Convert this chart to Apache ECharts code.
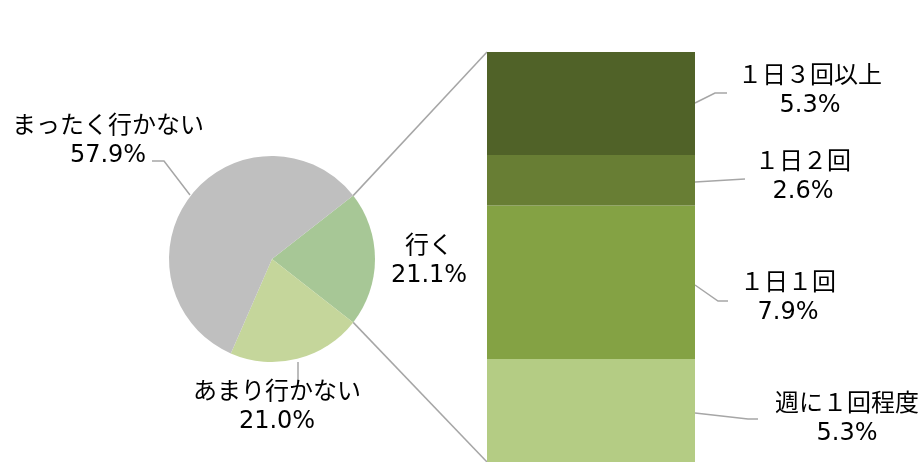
<!DOCTYPE html>
<html>
<head>
<meta charset="utf-8">
<script src="https://cdn.jsdelivr.net/npm/echarts@6/dist/echarts.min.js"></script>
<style>
  html, body { margin: 0; padding: 0; background: #fff; }
  #main { width: 922px; height: 462px; }
</style>
</head>
<body>
<div id="main"></div>
<script>
// 円グラフ（全体）
var pieNames = ['行く', 'あまり行かない', 'まったく行かない'];
var pieValues = [21.1, 21.0, 57.9];
// 棒グラフ（「行く」の内訳）下から順
var barNames = ['週に１回程度', '１日１回', '１日２回', '１日３回以上'];
var barValues = [5.3, 7.9, 2.6, 5.3];

var pieColors = ['#a7c796', '#c5d69b', '#bfbfbf'];
var barColors = ['#b4cc84', '#84a244', '#687e34', '#506228'];
var FONT = '"DejaVu Sans", "Noto Sans CJK JP", sans-serif';
var LINE = '#a6a6a6';

var cx = 272, cy = 259, r = 103;
var total = pieValues.reduce(function (a, b) { return a + b; }, 0);
var startAngle = pieValues[0] / total * 360 / 2;

// ラベル位置（中心）と引き出し線
var pieLabelPos = [
  { x: 429, y: 261, line: null },
  { x: 277, y: 407, line: [[298, 362], [298, 380]] },
  { x: 108, y: 141, line: [[190, 195], [164, 161], [152, 161]] }
];
var barLabelPos = [
  { x: 847, y: 419, line: [[695, 413], [748, 419], [758, 419]] },
  { x: 788, y: 298, line: [[695, 285], [718, 301], [728, 301]] },
  { x: 803, y: 177, line: [[695, 182], [745, 179]] },
  { x: 810, y: 91, line: [[695, 103], [715, 93], [727, 93]] }
];

var labelStyle = {
  show: true,
  color: '#000',
  fontFamily: FONT,
  fontSize: 24,
  lineHeight: 29,
  align: 'center',
  overflow: 'none'
};

var myChart = echarts.init(document.getElementById('main'));

var series = [{
  type: 'pie',
  center: [cx, cy],
  radius: r,
  startAngle: startAngle,
  clockwise: true,
  silent: true,
  data: pieNames.map(function (n, i) {
    return { name: n, value: pieValues[i], itemStyle: { color: pieColors[i] } };
  }),
  label: Object.assign({}, labelStyle, {
    width: 260,
    formatter: function (p) { return p.name + '\n' + p.value.toFixed(1) + '%'; }
  }),
  labelLine: { show: true, lineStyle: { color: LINE, width: 1.5 } },
  labelLayout: function (p) {
    var pos = pieLabelPos[p.dataIndex];
    var o = { x: pos.x, y: pos.y, align: 'center', verticalAlign: 'middle' };
    o.labelLinePoints = pos.line ? pos.line : [[pos.x, pos.y], [pos.x, pos.y]];
    return o;
  }
}];

barNames.forEach(function (n, i) {
  series.push({
    type: 'bar',
    name: n,
    stack: 'go',
    barWidth: '100%',
    silent: true,
    itemStyle: { color: barColors[i] },
    data: [barValues[i]],
    label: Object.assign({}, labelStyle, {
      position: 'right',
      formatter: function (p) { return p.seriesName + '\n' + p.value.toFixed(1) + '%'; }
    }),
    labelLayout: function () {
      var pos = barLabelPos[i];
      return { x: pos.x, y: pos.y, align: 'center', verticalAlign: 'middle' };
    }
  });
});

var barSum = barValues.reduce(function (a, b) { return a + b; }, 0);

var option = {
  backgroundColor: '#fff',
  animation: false,
  grid: { left: 487, top: 52, width: 208, height: 410 },
  xAxis: { type: 'category', data: ['行く'], show: false },
  yAxis: { type: 'value', min: 0, max: barSum, show: false },
  series: series
};
myChart.setOption(option);

// 円と棒をつなぐ線、棒ラベルの引き出し線
var a = startAngle * Math.PI / 180;
var pTop = [cx + r * Math.cos(a), cy - r * Math.sin(a)];
var pBot = [cx + r * Math.cos(a), cy + r * Math.sin(a)];
var yTop = myChart.convertToPixel({ yAxisIndex: 0 }, barSum);
var yBot = myChart.convertToPixel({ yAxisIndex: 0 }, 0);
var xLeft = 487;
var graphics = [
  { type: 'line', shape: { x1: pTop[0], y1: pTop[1], x2: xLeft, y2: yTop }, style: { stroke: LINE, lineWidth: 1.5 } },
  { type: 'line', shape: { x1: pBot[0], y1: pBot[1], x2: xLeft, y2: yBot }, style: { stroke: LINE, lineWidth: 1.5 } }
];
barLabelPos.forEach(function (pos) {
  graphics.push({ type: 'polyline', shape: { points: pos.line }, style: { stroke: LINE, lineWidth: 1.5, fill: null } });
});
myChart.setOption({ graphic: graphics });
</script>
</body>
</html>
